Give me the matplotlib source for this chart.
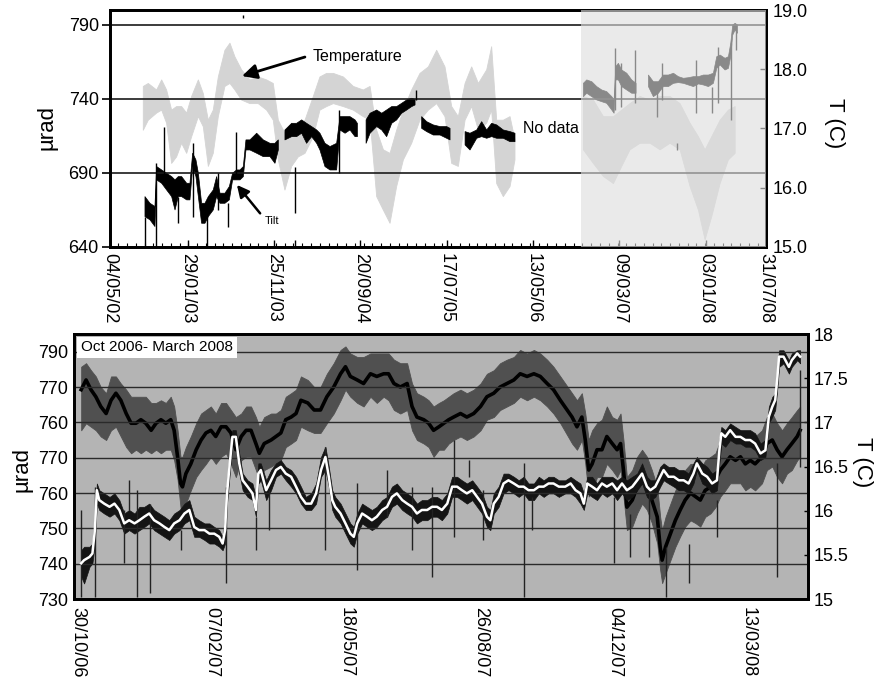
import numpy as np
import pandas as pd
import matplotlib
matplotlib.use('Agg')
import matplotlib.pyplot as plt
from matplotlib.ticker import MultipleLocator, FormatStrFormatter

plt.rcParams['font.family'] = ['Liberation Sans', 'DejaVu Sans']

#== data (x in decimal years) ==================================================
nan = np.nan

# upper panel: temperature envelope (C), 2002-2008
temp_top_yr = [2002.654, 2002.702, 2002.781, 2002.829, 2002.876, 2002.924, 2002.971, 2003.019, 2003.067, 2003.114,
               2003.178, 2003.225, 2003.273, 2003.320, 2003.368, 2003.431, 2003.479, 2003.526, 2003.590, 2003.669,
               2003.748, 2003.828, 2003.891, 2003.939, 2004.002, 2004.066, 2004.129, 2004.193, 2004.272, 2004.335,
               2004.399, 2004.463, 2004.558, 2004.653, 2004.748, 2004.812, 2004.875, 2004.939, 2005.002, 2005.065,
               2005.129, 2005.208, 2005.287, 2005.367, 2005.446, 2005.525, 2005.589, 2005.652, 2005.716, 2005.779,
               2005.843, 2005.922, 2005.969, 2006.017, 2006.080, 2006.144, 2006.191, nan,
               2006.842, 2006.937, 2007.033, 2007.128, 2007.207, 2007.286, 2007.381, 2007.477, 2007.572, 2007.667,
               2007.762, 2007.857, 2007.937, 2008.000, 2008.063, 2008.143, 2008.222, 2008.286]
temp_top_hi = [17.71, 17.76, 17.65, 17.82, 17.65, 17.31, 17.37, 17.37, 17.26, 17.54,
               17.82, 17.59, 17.14, 17.31, 17.87, 18.32, 18.44, 18.21, 17.99, 17.82,
               17.87, 17.82, 17.76, 17.14, 16.92, 17.09, 16.97, 17.14, 17.54, 17.87,
               17.93, 17.93, 17.87, 17.71, 17.65, 17.71, 16.97, 16.64, 16.58, 16.97,
               17.31, 17.65, 17.93, 18.04, 18.32, 18.04, 17.37, 17.20, 17.76, 18.04,
               17.76, 17.99, 18.38, 17.14, 17.14, 17.20, 16.81, nan,
               17.54, 17.48, 17.20, 17.20, 17.31, 17.42, 17.54, 17.48, 17.54, 17.54,
               17.42, 17.09, 16.86, 16.64, 16.86, 17.14, 17.31, 17.37]
temp_top_lo = [16.97, 17.14, 17.26, 17.31, 17.09, 16.41, 16.52, 16.75, 16.58, 16.86,
               17.20, 17.03, 16.36, 16.58, 17.20, 17.71, 17.76, 17.65, 17.48, 17.42,
               17.42, 17.31, 17.14, 16.47, 15.96, 16.36, 16.52, 16.58, 16.86, 17.31,
               17.37, 17.42, 17.37, 17.31, 17.20, 17.14, 15.85, 15.62, 15.40, 16.02,
               16.47, 16.75, 17.14, 17.31, 17.42, 17.20, 16.41, 16.36, 17.14, 17.37,
               16.97, 17.09, 17.31, 16.07, 15.85, 16.02, 16.47, nan,
               16.64, 16.41, 16.19, 16.07, 16.36, 16.64, 16.75, 16.75, 16.64, 16.75,
               16.64, 16.02, 15.62, 15.12, 15.51, 16.07, 16.47, 16.58]

# upper panel: tilt envelope (urad)
tilt_top_yr = [2002.670, 2002.718, 2002.765, 2002.781, 2002.829, 2002.876, 2002.924, 2002.956, 2002.987, 2003.019,
               2003.067, 2003.098, 2003.124, 2003.155, 2003.178, 2003.209, 2003.241, 2003.273, 2003.320, 2003.352,
               2003.384, 2003.431, 2003.473, 2003.504, 2003.542, 2003.574, 2003.606, 2003.631, 2003.669, 2003.733,
               2003.796, 2003.860, 2003.907, 2003.939, nan,
               2004.002, 2004.066, 2004.113, 2004.161, 2004.208, 2004.256, 2004.304, 2004.335, 2004.383, 2004.431,
               2004.494, 2004.526, 2004.574, 2004.621, 2004.669, 2004.691, nan,
               2004.774, 2004.812, 2004.875, 2004.923, 2004.970, 2005.018, 2005.065, 2005.113, 2005.161, 2005.208,
               2005.240, nan,
               2005.303, 2005.351, 2005.414, 2005.478, 2005.541, 2005.573, nan,
               2005.716, 2005.763, 2005.827, 2005.874, 2005.922, 2005.969, 2006.017, 2006.080, 2006.144, 2006.191, nan,
               2006.842, 2006.874, 2006.922, 2006.969, 2007.017, 2007.064, 2007.112, 2007.134, 2007.150, 2007.175,
               2007.207, 2007.255, 2007.302, 2007.343, nan,
               2007.461, 2007.508, 2007.556, 2007.603, 2007.651, 2007.699, 2007.746, 2007.794, 2007.841, 2007.889,
               2007.937, 2007.984, 2008.032, 2008.079, 2008.111, 2008.143, 2008.190, 2008.222, 2008.244, 2008.263,
               2008.286, 2008.308]
tilt_top_hi = [674.0, 669.5, 667.3, 694.3, 692.0, 689.8, 687.5, 685.3, 687.5, 687.5,
               683.0, 683.0, 703.3, 698.8, 689.8, 669.5, 669.5, 674.0, 678.5, 687.5,
               676.3, 676.3, 680.8, 689.8, 692.0, 692.0, 694.3, 712.3, 712.3, 716.8,
               712.3, 710.0, 710.0, 712.3, nan,
               719.0, 723.5, 723.5, 725.8, 723.5, 721.3, 719.0, 716.8, 710.0, 707.8,
               710.0, 728.0, 728.0, 728.0, 725.8, 723.5, nan,
               725.8, 730.3, 732.5, 730.3, 732.5, 734.8, 734.8, 737.0, 739.3, 740.4,
               739.7, nan,
               728.0, 724.6, 722.4, 721.3, 721.3, 720.1, nan,
               717.9, 716.8, 719.0, 724.6, 719.0, 723.5, 722.4, 719.0, 717.9, 716.8, nan,
               750.5, 752.8, 751.6, 748.3, 746.0, 744.9, 741.5, 739.3, 761.8, 764.0,
               759.5, 757.3, 752.8, 750.5, nan,
               756.1, 751.6, 751.6, 756.1, 756.1, 757.3, 755.0, 753.9, 754.3, 755.0,
               755.0, 756.1, 756.1, 757.3, 768.5, 769.6, 767.4, 768.5, 777.5, 789.9,
               791.0, 789.9]
tilt_top_lo = [660.5, 658.3, 653.8, 685.3, 683.0, 678.5, 674.0, 665.0, 674.0, 674.0,
               671.8, 671.8, 694.3, 687.5, 674.0, 656.0, 656.0, 660.5, 665.0, 674.0,
               669.5, 669.5, 671.8, 685.3, 685.3, 685.3, 687.5, 705.5, 705.5, 703.3,
               701.0, 701.0, 696.5, 705.5, nan,
               712.3, 714.5, 714.5, 716.8, 710.0, 714.5, 710.0, 705.5, 694.3, 692.0,
               692.0, 719.0, 716.8, 719.0, 714.5, 714.5, nan,
               710.0, 716.8, 721.3, 719.0, 714.5, 723.5, 725.8, 730.3, 732.5, 734.8,
               735.9, nan,
               720.1, 717.9, 715.6, 715.6, 713.4, 712.3, nan,
               708.9, 705.5, 713.4, 714.5, 713.4, 714.5, 713.4, 713.4, 711.1, 711.1, nan,
               741.5, 743.8, 741.5, 739.3, 738.1, 737.0, 732.5, 730.3, 752.8, 752.8,
               748.3, 746.0, 743.8, 743.8, nan,
               748.3, 741.5, 743.8, 748.3, 748.3, 750.5, 751.0, 750.5, 749.4, 748.3,
               750.1, 749.4, 748.3, 750.5, 760.6, 762.9, 759.5, 760.6, 768.5, 783.1,
               786.5, 784.3]

# upper panel: isolated tilt spikes (yr, low, high)
spike_top_yr = [2002.670, 2002.775, 2002.851, 2002.987, 2003.124, 2003.257, 2003.368, 2003.463, 2003.536, 2003.606,
                2004.097, 2004.097, 2004.520, 2005.249, 2007.144, 2007.201, 2007.334, 2007.540, 2007.588, 2007.730,
                2007.914, 2008.070, 2008.127, 2008.247, 2008.295]
spike_top_lo = [640.0, 640.0, 687.5, 656.0, 660.5, 640.0, 665.0, 653.8, 687.5, 794.4,
                662.8, 640.0, 689.8, 739.3, 732.5, 734.8, 737.0, 728.0, 739.3, 705.5,
                730.3, 730.3, 737.0, 725.8, 773.0]
spike_top_hi = [660.5, 696.5, 721.3, 674.0, 710.0, 667.3, 689.8, 669.5, 717.9, 796.6,
                694.3, 644.8, 732.5, 746.0, 774.1, 764.0, 773.0, 748.3, 764.0, 710.0,
                766.3, 748.3, 775.3, 777.5, 786.5]

# lower panel: temperature (C), running mean with envelope
temp_yr = [2006.834, 2006.844, 2006.854, 2006.864, 2006.874, 2006.885, 2006.895, 2006.905, 2006.915, 2006.926,
           2006.936, 2006.946, 2006.956, 2006.966, 2006.977, 2006.987, 2006.997, 2007.007, 2007.017, 2007.024,
           2007.031, 2007.037, 2007.041, 2007.048, 2007.058, 2007.069, 2007.079, 2007.089, 2007.099, 2007.109,
           2007.120, 2007.130, 2007.140, 2007.150, 2007.161, 2007.171, 2007.181, 2007.191, 2007.198, 2007.208,
           2007.222, 2007.232, 2007.242, 2007.252, 2007.263, 2007.273, 2007.283, 2007.297, 2007.310, 2007.323,
           2007.336, 2007.350, 2007.364, 2007.374, 2007.384, 2007.398, 2007.411, 2007.425, 2007.438, 2007.452,
           2007.462, 2007.473, 2007.486, 2007.500, 2007.510, 2007.520, 2007.534, 2007.544, 2007.554, 2007.565,
           2007.575, 2007.585, 2007.595, 2007.609, 2007.622, 2007.636, 2007.650, 2007.663, 2007.677, 2007.690,
           2007.704, 2007.718, 2007.731, 2007.745, 2007.759, 2007.772, 2007.786, 2007.799, 2007.813, 2007.837,
           2007.847, 2007.857, 2007.864, 2007.871, 2007.878, 2007.888, 2007.898, 2007.908, 2007.919, 2007.929,
           2007.936, 2007.942, 2007.949, 2007.960, 2007.970, 2007.980, 2007.990, 2008.000, 2008.011, 2008.017,
           2008.021, 2008.028, 2008.038, 2008.048, 2008.058, 2008.068, 2008.079, 2008.089, 2008.099, 2008.109,
           2008.120, 2008.130, 2008.140, 2008.150, 2008.160, 2008.171, 2008.181, 2008.191, 2008.201, 2008.211,
           2008.225, 2008.235, 2008.246, 2008.256, 2008.266, 2008.276, 2008.286, 2008.297, 2008.303]
temp_mid = [17.37, 17.48, 17.37, 17.29, 17.18, 17.10, 17.25, 17.33, 17.25, 17.10,
            16.99, 16.99, 17.03, 16.99, 16.91, 16.99, 17.03, 16.99, 17.03, 16.91,
            16.61, 16.31, 16.27, 16.42, 16.53, 16.69, 16.80, 16.88, 16.91, 16.84,
            16.95, 16.95, 16.88, 16.69, 16.84, 16.91, 16.91, 16.76, 16.65, 16.76,
            16.80, 16.84, 16.88, 17.03, 17.06, 17.10, 17.25, 17.22, 17.14, 17.14,
            17.29, 17.40, 17.55, 17.63, 17.52, 17.48, 17.44, 17.55, 17.52, 17.55,
            17.55, 17.44, 17.40, 17.44, 17.18, 17.06, 17.03, 16.99, 16.91, 16.95,
            16.99, 17.03, 17.06, 17.10, 17.06, 17.10, 17.18, 17.29, 17.33, 17.40,
            17.44, 17.48, 17.55, 17.52, 17.55, 17.52, 17.44, 17.37, 17.25, 17.06,
            16.95, 17.06, 16.80, 16.46, 16.53, 16.69, 16.69, 16.84, 16.76, 16.69,
            16.76, 16.46, 16.04, 16.12, 16.27, 16.38, 16.31, 16.12, 15.93, 15.59,
            15.44, 15.59, 15.74, 15.89, 16.01, 16.12, 16.20, 16.16, 16.12, 16.23,
            16.27, 16.35, 16.46, 16.53, 16.61, 16.57, 16.61, 16.53, 16.57, 16.53,
            16.61, 16.76, 16.80, 16.69, 16.61, 16.69, 16.76, 16.84, 16.91]
temp_hi = [17.63, 17.67, 17.59, 17.52, 17.40, 17.33, 17.52, 17.52, 17.44, 17.37,
           17.29, 17.29, 17.29, 17.29, 17.22, 17.22, 17.25, 17.22, 17.29, 17.18,
           16.91, 16.61, 16.61, 16.72, 16.84, 16.99, 17.10, 17.14, 17.18, 17.10,
           17.22, 17.22, 17.14, 17.06, 17.10, 17.18, 17.18, 17.06, 16.95, 17.06,
           17.10, 17.10, 17.14, 17.29, 17.33, 17.37, 17.52, 17.48, 17.40, 17.40,
           17.55, 17.67, 17.82, 17.86, 17.78, 17.74, 17.74, 17.78, 17.78, 17.78,
           17.78, 17.71, 17.67, 17.67, 17.44, 17.33, 17.29, 17.25, 17.18, 17.22,
           17.25, 17.29, 17.33, 17.37, 17.33, 17.37, 17.44, 17.55, 17.59, 17.67,
           17.71, 17.74, 17.82, 17.78, 17.82, 17.78, 17.71, 17.63, 17.52, 17.33,
           17.25, 17.33, 17.10, 16.80, 16.91, 16.99, 17.03, 17.18, 17.06, 17.03,
           17.10, 16.80, 16.38, 16.46, 16.61, 16.69, 16.61, 16.46, 16.27, 15.93,
           15.78, 15.93, 16.08, 16.23, 16.35, 16.46, 16.53, 16.53, 16.46, 16.57,
           16.61, 16.65, 16.80, 16.88, 16.91, 16.91, 16.91, 16.84, 16.88, 16.84,
           16.91, 17.06, 17.10, 16.99, 16.91, 16.99, 17.06, 17.14, 17.18]
temp_lo = [16.91, 16.99, 16.95, 16.91, 16.84, 16.80, 16.91, 16.95, 16.84, 16.72,
           16.65, 16.69, 16.65, 16.69, 16.65, 16.69, 16.65, 16.69, 16.69, 16.57,
           16.35, 16.04, 15.93, 16.08, 16.23, 16.38, 16.46, 16.53, 16.61, 16.53,
           16.61, 16.65, 16.53, 16.38, 16.57, 16.61, 16.61, 16.46, 16.35, 16.46,
           16.50, 16.53, 16.57, 16.72, 16.76, 16.80, 16.95, 16.91, 16.88, 16.88,
           16.99, 17.10, 17.25, 17.37, 17.29, 17.22, 17.18, 17.29, 17.22, 17.29,
           17.25, 17.14, 17.10, 17.14, 16.91, 16.80, 16.76, 16.72, 16.61, 16.69,
           16.69, 16.76, 16.80, 16.84, 16.80, 16.84, 16.91, 17.03, 17.06, 17.14,
           17.18, 17.22, 17.29, 17.25, 17.29, 17.25, 17.18, 17.10, 16.99, 16.76,
           16.69, 16.80, 16.53, 16.16, 16.23, 16.38, 16.38, 16.53, 16.46, 16.38,
           16.46, 16.16, 15.78, 15.82, 15.97, 16.08, 16.01, 15.86, 15.63, 15.33,
           15.18, 15.29, 15.44, 15.59, 15.71, 15.82, 15.89, 15.86, 15.82, 15.93,
           15.97, 16.04, 16.16, 16.23, 16.31, 16.31, 16.31, 16.23, 16.27, 16.23,
           16.31, 16.46, 16.50, 16.38, 16.31, 16.42, 16.46, 16.57, 16.61]

# lower panel: tilt (urad), running mean with envelope
tilt_yr = [2006.834, 2006.840, 2006.851, 2006.857, 2006.862, 2006.866, 2006.871, 2006.881, 2006.892, 2006.902,
           2006.912, 2006.922, 2006.932, 2006.943, 2006.953, 2006.963, 2006.973, 2006.983, 2006.994, 2007.004,
           2007.014, 2007.024, 2007.035, 2007.045, 2007.055, 2007.065, 2007.075, 2007.086, 2007.096, 2007.106,
           2007.116, 2007.123, 2007.128, 2007.132, 2007.137, 2007.143, 2007.150, 2007.157, 2007.164, 2007.174,
           2007.184, 2007.191, 2007.196, 2007.201, 2007.212, 2007.222, 2007.232, 2007.242, 2007.252, 2007.263,
           2007.273, 2007.283, 2007.293, 2007.304, 2007.314, 2007.324, 2007.333, 2007.340, 2007.347, 2007.353,
           2007.364, 2007.374, 2007.384, 2007.391, 2007.398, 2007.408, 2007.418, 2007.428, 2007.438, 2007.449,
           2007.459, 2007.469, 2007.479, 2007.490, 2007.500, 2007.510, 2007.520, 2007.530, 2007.541, 2007.551,
           2007.561, 2007.571, 2007.582, 2007.592, 2007.602, 2007.612, 2007.622, 2007.633, 2007.643, 2007.653,
           2007.663, 2007.670, 2007.677, 2007.687, 2007.697, 2007.707, 2007.718, 2007.728, 2007.738, 2007.748,
           2007.759, 2007.769, 2007.779, 2007.789, 2007.799, 2007.810, 2007.823, 2007.834, 2007.844, 2007.854,
           2007.861, 2007.868, 2007.878, 2007.888, 2007.898, 2007.908, 2007.919, 2007.929, 2007.939, 2007.949,
           2007.960, 2007.970, 2007.980, 2007.990, 2007.997, 2008.007, 2008.017, 2008.024, 2008.034, 2008.045,
           2008.055, 2008.065, 2008.075, 2008.085, 2008.092, 2008.103, 2008.113, 2008.123, 2008.133, 2008.138,
           2008.142, 2008.150, 2008.160, 2008.171, 2008.181, 2008.191, 2008.201, 2008.211, 2008.222, 2008.232,
           2008.239, 2008.246, 2008.252, 2008.256, 2008.260, 2008.269, 2008.280, 2008.286, 2008.297, 2008.303]
tilt_mid = [740.1, 741.0, 741.9, 742.9, 749.5, 760.8, 758.0, 757.0, 756.1, 757.0,
            755.2, 751.4, 752.3, 751.4, 752.3, 753.3, 754.2, 752.3, 751.4, 750.4,
            749.5, 751.4, 752.3, 754.2, 755.2, 750.4, 749.5, 749.5, 748.5, 748.5,
            747.6, 745.7, 749.5, 759.9, 767.4, 775.9, 775.9, 768.4, 763.6, 761.8,
            759.9, 755.2, 765.5, 766.5, 760.8, 763.6, 766.5, 767.4, 765.5, 764.6,
            761.8, 758.9, 757.0, 757.0, 759.9, 766.5, 770.2, 764.6, 758.0, 756.1,
            754.2, 751.4, 748.5, 747.6, 751.4, 754.2, 753.3, 752.3, 753.3, 755.2,
            756.1, 758.9, 759.9, 758.0, 757.0, 756.1, 754.2, 755.2, 755.2, 756.1,
            756.1, 755.2, 757.0, 761.8, 761.8, 760.8, 759.9, 760.8, 758.9, 757.0,
            753.3, 752.3, 757.0, 758.9, 762.7, 763.6, 762.7, 761.8, 761.8, 760.8,
            760.8, 761.8, 761.8, 762.7, 762.7, 761.8, 761.8, 762.7, 760.8, 759.9,
            757.0, 762.7, 761.8, 760.8, 762.7, 761.8, 762.7, 760.8, 762.7, 760.8,
            761.8, 763.6, 765.5, 761.8, 760.8, 761.8, 764.6, 766.5, 764.6, 764.6,
            763.6, 763.6, 762.7, 765.5, 768.4, 765.5, 764.6, 762.7, 763.6, 772.1,
            776.9, 775.9, 777.8, 775.9, 775.9, 775.0, 775.0, 774.0, 771.2, 772.1,
            781.6, 784.4, 786.3, 792.0, 798.6, 798.6, 795.7, 797.6, 799.5, 798.6]
tilt_hi = [743.8, 744.8, 744.8, 745.7, 753.3, 762.7, 760.8, 759.9, 758.9, 759.9,
           758.0, 754.2, 755.2, 754.2, 756.1, 756.1, 757.0, 755.2, 754.2, 753.3,
           752.3, 754.2, 755.2, 757.0, 758.0, 753.3, 752.3, 751.4, 751.4, 750.4,
           749.5, 747.6, 753.3, 762.7, 770.2, 777.8, 777.8, 771.2, 765.5, 763.6,
           762.7, 758.9, 768.4, 768.4, 763.6, 766.5, 768.4, 769.3, 767.4, 766.5,
           764.6, 761.8, 758.9, 759.9, 762.7, 770.2, 773.1, 767.4, 760.8, 758.9,
           757.0, 754.2, 751.4, 750.4, 754.2, 757.0, 756.1, 755.2, 756.1, 758.0,
           758.9, 761.8, 762.7, 760.8, 759.9, 758.9, 757.0, 758.0, 758.0, 758.9,
           758.9, 758.0, 759.9, 764.6, 764.6, 763.6, 762.7, 763.6, 761.8, 759.9,
           756.1, 755.2, 759.9, 761.8, 765.5, 765.5, 764.6, 763.6, 764.6, 762.7,
           762.7, 764.6, 763.6, 764.6, 764.6, 763.6, 763.6, 764.6, 763.6, 762.7,
           759.9, 764.6, 764.6, 762.7, 764.6, 764.6, 764.6, 763.6, 764.6, 763.6,
           764.6, 765.5, 768.4, 764.6, 763.6, 763.6, 767.4, 768.4, 767.4, 767.4,
           766.5, 766.5, 765.5, 768.4, 770.2, 768.4, 767.4, 765.5, 766.5, 775.0,
           778.7, 777.8, 779.7, 778.7, 777.8, 777.8, 777.8, 776.9, 774.0, 775.0,
           784.4, 787.2, 788.2, 794.8, 800.4, 800.4, 797.6, 799.5, 800.4, 800.4]
tilt_lo = [736.3, 734.4, 739.1, 740.1, 745.7, 757.0, 755.2, 754.2, 753.3, 754.2,
           752.3, 748.5, 749.5, 748.5, 749.5, 750.4, 751.4, 749.5, 748.5, 747.6,
           746.7, 748.5, 749.5, 751.4, 752.3, 747.6, 747.6, 746.7, 745.7, 745.7,
           744.8, 743.8, 745.7, 757.0, 764.6, 774.0, 773.1, 765.5, 760.8, 758.9,
           758.0, 753.3, 762.7, 763.6, 758.0, 760.8, 764.6, 765.5, 763.6, 761.8,
           759.9, 757.0, 755.2, 755.2, 757.0, 764.6, 766.5, 761.8, 755.2, 753.3,
           751.4, 748.5, 745.7, 744.8, 748.5, 751.4, 750.4, 749.5, 750.4, 752.3,
           753.3, 756.1, 757.0, 755.2, 754.2, 753.3, 751.4, 752.3, 752.3, 753.3,
           753.3, 752.3, 754.2, 758.9, 758.9, 758.0, 757.0, 758.0, 756.1, 754.2,
           750.4, 749.5, 754.2, 756.1, 759.9, 760.8, 759.9, 758.9, 759.9, 758.0,
           758.0, 759.9, 758.9, 759.9, 759.9, 758.9, 759.9, 759.9, 758.9, 757.0,
           755.2, 759.9, 758.9, 758.0, 759.9, 758.9, 759.9, 758.0, 759.9, 758.0,
           758.9, 760.8, 762.7, 758.9, 758.0, 758.9, 761.8, 763.6, 762.7, 761.8,
           760.8, 760.8, 759.9, 762.7, 766.5, 762.7, 761.8, 759.9, 760.8, 768.4,
           774.0, 773.1, 775.0, 774.0, 774.0, 773.1, 773.1, 772.1, 769.3, 770.2,
           779.7, 781.6, 783.5, 789.1, 795.7, 796.7, 793.8, 795.7, 797.6, 796.7]

# lower panel: isolated tilt spikes (yr, low, high)
spike_yr = [2006.834, 2006.862, 2006.922, 2006.932, 2006.948, 2006.975, 2007.038, 2007.130, 2007.191, 2007.218,
            2007.333, 2007.398, 2007.459, 2007.510, 2007.551, 2007.595, 2007.626, 2007.656, 2007.738, 2007.755,
            2007.922, 2007.956, 2007.994, 2008.028, 2008.075, 2008.133, 2008.256, 2008.303]
spike_lo = [730.6, 730.6, 740.1, 755.2, 730.6, 731.6, 743.8, 734.4, 743.8, 749.5,
            743.8, 738.2, 753.3, 743.8, 736.3, 747.6, 764.6, 746.7, 730.6, 749.5,
            740.1, 741.9, 741.9, 730.6, 734.4, 747.6, 736.3, 767.4]
spike_hi = [755.2, 761.8, 755.2, 763.6, 760.8, 757.0, 749.5, 761.8, 753.3, 760.8,
            773.1, 762.7, 766.5, 761.8, 761.8, 775.0, 769.3, 760.8, 768.4, 758.9,
            758.9, 754.2, 761.8, 744.8, 745.7, 758.0, 768.4, 794.8]

# tick labels
top_dates = ['04/05/02', '29/01/03', '25/11/03', '20/09/04', '17/07/05', '13/05/06', '09/03/07', '03/01/08', '31/07/08']
bot_dates = ['30/10/06', '07/02/07', '18/05/07', '26/08/07', '04/12/07', '13/03/08']
bot_tilt_ticks = [730, 740, 750, 760, 770, 780, 790, 800]
bot_tilt_labels = ['730', '740', '750', '760', '770', '760', '770', '790']


def decimal_year(s):
    d = pd.to_datetime(s, format='%d/%m/%y')
    n = 366 if d.is_leap_year else 365
    return d.year + (d.dayofyear - 1) / n


FS = 13

#== figure ====================================================================
fig = plt.figure(figsize=(8.77, 6.77), dpi=100)

# ---- upper panel: full record 2002-2008
axT = fig.add_axes([0.1254, 0.6352, 0.748, 0.35])
axL = axT.twinx()
axT.yaxis.tick_right()
axL.yaxis.tick_left()

axT.fill_between(temp_top_yr, temp_top_lo, temp_top_hi, color='#d4d4d4', lw=0.6)
axL.fill_between(tilt_top_yr, tilt_top_lo, tilt_top_hi, color='black', lw=0.5)
axL.vlines(spike_top_yr, spike_top_lo, spike_top_hi, color='black', lw=1)

# Oct 2006 onwards greyed out
axL.axvspan(decimal_year('27/10/06'), decimal_year('31/07/08'), color='#dedede', alpha=0.62, lw=0, zorder=5)

axT.set_xlim(decimal_year(top_dates[0]), decimal_year(top_dates[-1]))
axL.set_ylim(640, 800)
axT.set_ylim(15, 19)
axL.set_yticks([640, 690, 740, 790])
axT.set_yticks([15, 16, 17, 18, 19])
axT.yaxis.set_major_formatter(FormatStrFormatter('%.1f'))
axL.grid(axis='y', color='#1a1a1a', lw=1.2)

axT.set_xticks([decimal_year(s) for s in top_dates])
axT.set_xticklabels(top_dates, rotation=-90)
axT.xaxis.set_minor_locator(MultipleLocator(1 / 12))
axT.tick_params(axis='x', which='major', direction='in', length=5, width=1, pad=4, labelsize=FS)
axT.tick_params(axis='x', which='minor', direction='in', length=3, width=0.8)
axT.tick_params(axis='y', direction='in', length=4, width=1, pad=5, labelsize=FS)
axL.tick_params(axis='y', direction='out', length=6, width=1.2, pad=2, labelsize=FS)
for a in (axT, axL):
    for sp in a.spines.values():
        sp.set_linewidth(2)

axL.annotate('Temperature', xy=(2003.593, 755.4), xytext=(2004.269, 768.9),
             fontsize=11.5, ha='left', va='center',
             arrowprops=dict(arrowstyle='-|>', color='black', lw=2, mutation_scale=22,
                             relpos=(0, 0.6), shrinkA=4, shrinkB=0))
axL.annotate('Tilt', xy=(2003.545, 681.9), xytext=(2003.878, 657.6),
             fontsize=8, ha='center', va='center',
             arrowprops=dict(arrowstyle='-|>', color='black', lw=1.8, mutation_scale=18,
                             relpos=(0, 0.7), shrinkA=2, shrinkB=0))
axL.text(2006.267, 720.3, 'No data', fontsize=11.5, ha='left', va='center', zorder=6)

fig.text(47 / 877, 1 - 127 / 677, 'µrad', rotation=90, fontsize=16, ha='center', va='center')
fig.text(835 / 877, 1 - 123 / 677, 'T (C)', rotation=270, fontsize=16, ha='center', va='center')

# ---- lower panel: Oct 2006 - March 2008
axB = fig.add_axes([0.0844, 0.1152, 0.8369, 0.3914], facecolor='#b4b4b4')
axB2 = axB.twinx()
axB.yaxis.tick_right()
axB2.yaxis.tick_left()

axB.fill_between(temp_yr, temp_lo, temp_hi, color='#505050', lw=0.6)
axB.plot(temp_yr, temp_mid, color='black', lw=2.6)
axB2.vlines(spike_yr, spike_lo, spike_hi, color='#222222', lw=1)
axB2.fill_between(tilt_yr, tilt_lo, tilt_hi, color='#141414', lw=0.5)
axB2.plot(tilt_yr, tilt_mid, color='white', lw=1.8)

axB.set_xlim(decimal_year(bot_dates[0]) - 0.008, 2008.319)
axB.set_ylim(15, 18)
axB2.set_ylim(730, 805)
axB.set_yticks([15, 15.5, 16, 16.5, 17, 17.5, 18])
axB.yaxis.set_major_formatter(FormatStrFormatter('%g'))
axB2.set_yticks(bot_tilt_ticks)
axB2.set_yticklabels(bot_tilt_labels)
axB2.grid(axis='y', color='#2a2a2a', lw=1)

axB.set_xticks([decimal_year(s) for s in bot_dates])
axB.set_xticklabels(bot_dates, rotation=-90)
axB.tick_params(axis='x', length=0, pad=6, labelsize=FS)
axB.tick_params(axis='y', direction='in', length=3, width=1, pad=4, labelsize=FS)
axB2.tick_params(axis='y', length=0, pad=4, labelsize=FS)
for a in (axB, axB2):
    for sp in a.spines.values():
        sp.set_linewidth(2)

axB2.text(0.0095, 0.951, 'Oct 2006- March 2008', transform=axB2.transAxes, fontsize=11,
          ha='left', va='center', zorder=10,
          bbox=dict(facecolor='white', edgecolor='none', pad=2.5))

fig.text(22 / 877, 1 - 470 / 677, 'µrad', rotation=90, fontsize=16, ha='center', va='center')
fig.text(863 / 877, 1 - 462 / 677, 'T (C)', rotation=270, fontsize=16, ha='center', va='center')

fig.savefig('out.png', dpi=100)
